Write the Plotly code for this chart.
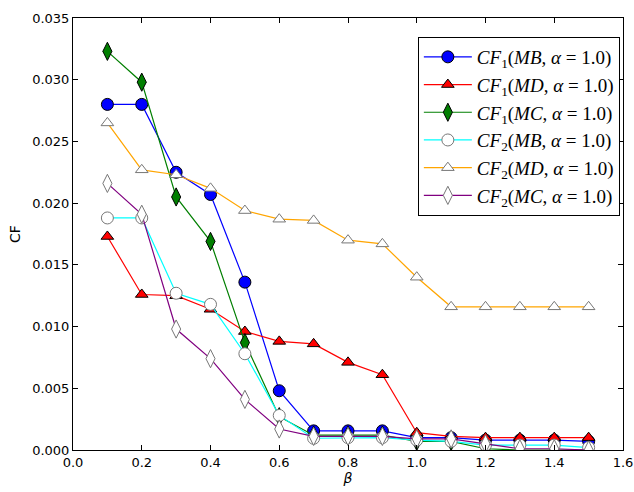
import plotly.graph_objects as go

beta = [0.1, 0.2, 0.3, 0.4, 0.5, 0.6, 0.7, 0.8, 0.9, 1.0, 1.1, 1.2, 1.3, 1.4, 1.5]

cf1_mb = [0.0280, 0.0280, 0.0225, 0.0207, 0.0136, 0.0048, 0.00155, 0.00155, 0.00155, 0.0010, 0.0010, 0.0008, 0.0008, 0.0008, 0.0007]
cf1_md = [0.0173, 0.0126, 0.0125, 0.0114, 0.0096, 0.0088, 0.0086, 0.0071, 0.0061, 0.0014, 0.0011, 0.0010, 0.0010, 0.0010, 0.0010]
cf1_mc = [0.0323, 0.0298, 0.0205, 0.0169, 0.0087, 0.0027, 0.0012, 0.0012, 0.0012, 0.0007, 0.0007, 0.0001, 0.0000, 0.0000, 0.0000]
cf2_mb = [0.0188, 0.0188, 0.0127, 0.0118, 0.0078, 0.0028, 0.00095, 0.0010, 0.0010, 0.0008, 0.0007, 0.0004, 0.0004, 0.0004, 0.0002]
cf2_md = [0.0265, 0.0227, 0.0223, 0.0212, 0.0194, 0.0187, 0.0186, 0.0170, 0.0167, 0.0140, 0.0116, 0.0116, 0.0116, 0.0116, 0.0116]
cf2_mc = [0.0216, 0.0191, 0.0098, 0.0074, 0.0041, 0.0017, 0.0011, 0.0011, 0.0011, 0.0009, 0.0009, 0.0005, 0.0001, 0.0001, 0.0000]

names = [
    "<i>CF</i><sub>1</sub>(<i>MB</i>, <i>α</i> = 1.0)",
    "<i>CF</i><sub>1</sub>(<i>MD</i>, <i>α</i> = 1.0)",
    "<i>CF</i><sub>1</sub>(<i>MC</i>, <i>α</i> = 1.0)",
    "<i>CF</i><sub>2</sub>(<i>MB</i>, <i>α</i> = 1.0)",
    "<i>CF</i><sub>2</sub>(<i>MD</i>, <i>α</i> = 1.0)",
    "<i>CF</i><sub>2</sub>(<i>MC</i>, <i>α</i> = 1.0)",
]
series = [cf1_mb, cf1_md, cf1_mc, cf2_mb, cf2_md, cf2_mc]
line_colors = ["#0000ff", "#ff0000", "#007f00", "#00ffff", "#ffa500", "#800080"]
fill_colors = ["#0000ff", "#ff0000", "#007f00", "white", "white", "white"]
edge_colors = ["black", "black", "black", "#777777", "#777777", "#777777"]
symbols = ["circle", "triangle-up", "diamond-tall", "circle", "triangle-up", "diamond-tall"]
sizes = [12, 11, 13, 12, 11, 13]

fig = go.Figure()
for i in range(6):
    fig.add_trace(go.Scatter(
        x=beta, y=series[i], mode="lines+markers", name=names[i],
        legendgroup=f"g{i}",
        line=dict(color=line_colors[i], width=1.2),
        marker=dict(symbol=symbols[i], size=sizes[i], color=fill_colors[i],
                    line=dict(color=edge_colors[i], width=1)),
    ))

axis_common = dict(
    showline=True, linecolor="black", linewidth=1, mirror="ticks",
    ticks="inside", ticklen=5, tickcolor="black", showgrid=False, zeroline=False,
    automargin=False,
    tickfont=dict(family="DejaVu Sans", size=13, color="black"),
)
fig.update_xaxes(range=[0, 1.6], dtick=0.2, tickformat=".1f",
                 title=dict(text="<i>β</i>", font=dict(family="DejaVu Sans", size=14, color="black"), standoff=0),
                 **axis_common)
fig.update_yaxes(range=[0, 0.035], dtick=0.005, tickformat=".3f",
                 title=dict(text="CF", font=dict(family="DejaVu Sans", size=14, color="black"), standoff=8),
                 **axis_common)

fig.update_layout(
    width=634, height=492,
    margin=dict(l=73, r=11, t=18, b=42),
    plot_bgcolor="white", paper_bgcolor="white",
    legend=dict(x=0.627, y=0.956, xanchor="left", yanchor="top",
                bordercolor="black", borderwidth=1, bgcolor="white",
                font=dict(family="Liberation Serif", size=19, color="black"),
                itemwidth=48,
                tracegroupgap=0, traceorder="grouped"),
)

fig.write_html("out.html", config={"displayModeBar": False},
               post_script="document.body.style.margin='0';")
